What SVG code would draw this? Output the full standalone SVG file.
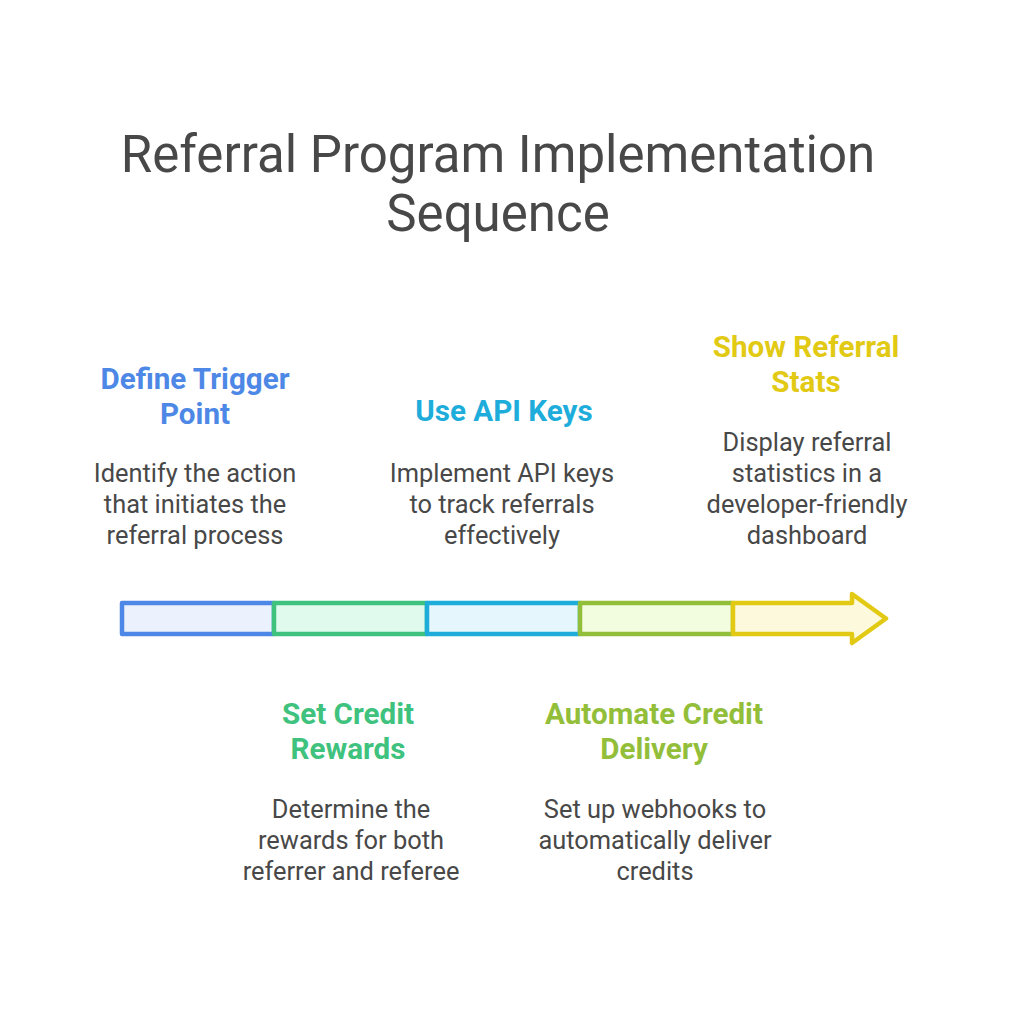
<svg xmlns="http://www.w3.org/2000/svg" width="1009" height="1024" viewBox="0 0 1009 1024">
<style>
text{font-family:Roboto,"Liberation Sans",sans-serif;text-anchor:middle}
.t{font-size:51px;fill:#484848}
.h{font-size:29.6px;font-weight:bold}
.b{font-size:25.4px;fill:#484848}
.seg{stroke-width:4.5;stroke-linejoin:round}
</style>
<rect width="1009" height="1024" fill="#fff"/>
<g id="title">
<text class="t" x="498" y="172">Referral Program Implementation</text>
<text class="t" x="498" y="231">Sequence</text>
</g>
<g id="connectors">
<rect class="seg" x="122" y="603" width="152" height="31" fill="#EBF1FD" stroke="#4E88E6"/>
<rect class="seg" x="274" y="603" width="153" height="31" fill="#E0FBEE" stroke="#3EC27D"/>
<rect class="seg" x="427" y="603" width="153" height="31" fill="#E5F7FD" stroke="#1EADDB"/>
<rect class="seg" x="580" y="603" width="153" height="31" fill="#F2FCDE" stroke="#93BE3A"/>
<path class="seg" d="M733 603 H852 V594 L886 618.5 L852 643 V634 H733 Z" fill="#FDF9DC" stroke="#E2CA14"/>
</g>
<g id="step1">
<text class="h" x="195" y="389" fill="#4E88E6">Define Trigger</text>
<text class="h" x="195" y="424" fill="#4E88E6">Point</text>
<text class="b" x="195" y="482">Identify the action</text>
<text class="b" x="195" y="513">that initiates the</text>
<text class="b" x="195" y="544">referral process</text>
</g>
<g id="step2">
<text class="h" x="348" y="724" fill="#3EC27D">Set Credit</text>
<text class="h" x="348" y="759" fill="#3EC27D">Rewards</text>
<text class="b" x="351" y="818">Determine the</text>
<text class="b" x="351" y="849">rewards for both</text>
<text class="b" x="351" y="880">referrer and referee</text>
</g>
<g id="step3">
<text class="h" x="504" y="421" fill="#1EADDB">Use API Keys</text>
<text class="b" x="502" y="482">Implement API keys</text>
<text class="b" x="502" y="513">to track referrals</text>
<text class="b" x="502" y="544">effectively</text>
</g>
<g id="step4">
<text class="h" x="654" y="724" fill="#93BE3A">Automate Credit</text>
<text class="h" x="654" y="759" fill="#93BE3A">Delivery</text>
<text class="b" x="655" y="818">Set up webhooks to</text>
<text class="b" x="655" y="849">automatically deliver</text>
<text class="b" x="655" y="880">credits</text>
</g>
<g id="step5">
<text class="h" x="806" y="357" fill="#E2CA14">Show Referral</text>
<text class="h" x="806" y="392" fill="#E2CA14">Stats</text>
<text class="b" x="807" y="451">Display referral</text>
<text class="b" x="807" y="482">statistics in a</text>
<text class="b" x="807" y="513">developer-friendly</text>
<text class="b" x="807" y="544">dashboard</text>
</g>
</svg>
